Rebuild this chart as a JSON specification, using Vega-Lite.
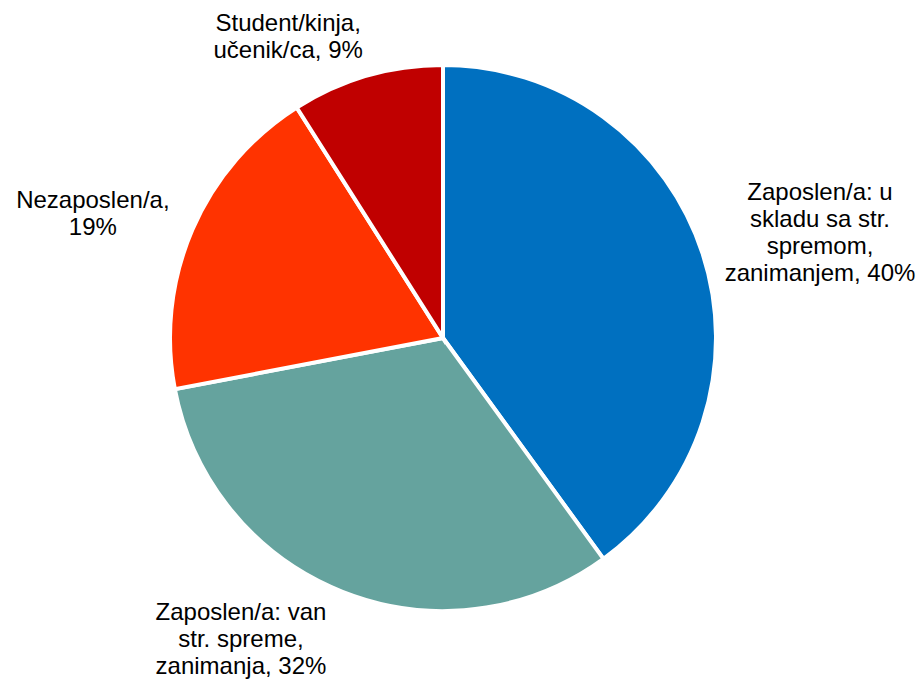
{
"$schema":"https://vega.github.io/schema/vega-lite/v6.json",
"width":886,"height":676,
"autosize":{"type":"none"},
"padding":{"left":0,"top":0,"right":34,"bottom":5},
"background":"white",
"view":{"stroke":null},
"data":{"values":[
{"rank":1,"cat":"Zaposlen/a: u skladu sa str. spremom, zanimanjem","value":40,"label":"Zaposlen/a: u\nskladu sa str.\nspremom,\nzanimanjem, 40%"},
{"rank":2,"cat":"Zaposlen/a: van str. spreme, zanimanja","value":32,"label":"Zaposlen/a: van\nstr. spreme,\nzanimanja, 32%"},
{"rank":3,"cat":"Nezaposlen/a","value":19,"label":"Nezaposlen/a,\n19%"},
{"rank":4,"cat":"Student/kinja, učenik/ca","value":9,"label":"Student/kinja,\nučenik/ca, 9%"}
]},
"transform":[{"stack":"value","groupby":[],"sort":[{"field":"rank","order":"ascending"}],"as":["s0","s1"]}],
"encoding":{
"theta":{"field":"s0","type":"quantitative","scale":{"domain":[0,100],"range":[0,6.283185307]}},
"theta2":{"field":"s1"}
},
"layer":[
{"mark":{"type":"arc","stroke":"white","strokeWidth":4,"radius":273},
 "encoding":{"color":{"field":"cat","type":"nominal","legend":null,"sort":null,
 "scale":{"domain":["Zaposlen/a: u skladu sa str. spremom, zanimanjem","Zaposlen/a: van str. spreme, zanimanja","Nezaposlen/a","Student/kinja, učenik/ca"],"range":["#0070C0","#65A39E","#FF3300","#C00000"]}}}},
{"transform":[{"filter":"datum.rank==1"}],
 "mark":{"type":"text","radius":330,"dx":377,"dy":185,"font":"Liberation Sans","fontSize":24,"lineHeight":27,"lineBreak":"\n","color":"black","align":"center","baseline":"middle"},
 "encoding":{"text":{"field":"label"}}},
{"transform":[{"filter":"datum.rank==2"}],
 "mark":{"type":"text","radius":330,"dx":-396,"dy":8,"font":"Liberation Sans","fontSize":24,"lineHeight":27,"lineBreak":"\n","color":"black","align":"center","baseline":"middle"},
 "encoding":{"text":{"field":"label"}}},
{"transform":[{"filter":"datum.rank==3"}],
 "mark":{"type":"text","radius":330,"dx":-26,"dy":-199,"font":"Liberation Sans","fontSize":24,"lineHeight":27,"lineBreak":"\n","color":"black","align":"center","baseline":"middle"},
 "encoding":{"text":{"field":"label"}}},
{"transform":[{"filter":"datum.rank==4"}],
 "mark":{"type":"text","radius":330,"dx":22,"dy":-35,"font":"Liberation Sans","fontSize":24,"lineHeight":27,"lineBreak":"\n","color":"black","align":"center","baseline":"middle"},
 "encoding":{"text":{"field":"label"}}}
]
}
